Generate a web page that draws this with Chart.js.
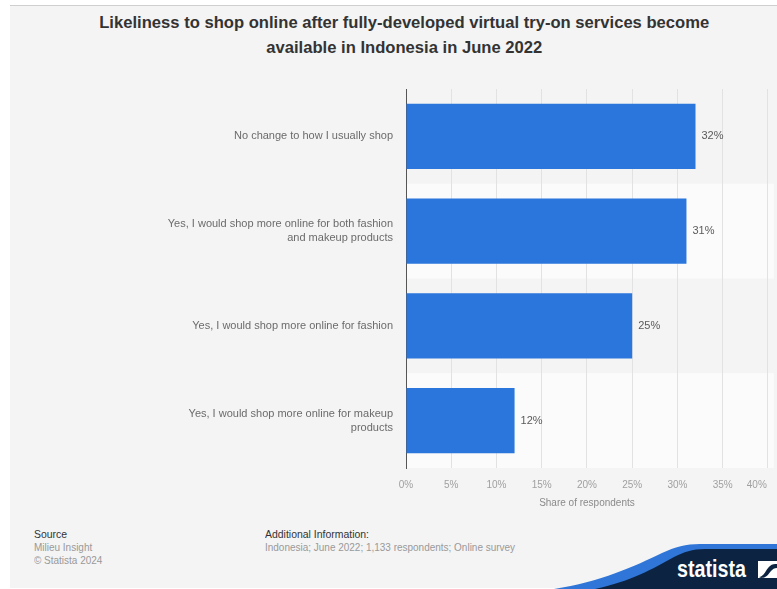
<!DOCTYPE html>
<html>
<head>
<meta charset="utf-8">
<script src="https://cdn.jsdelivr.net/npm/chart.js@4.4.0/dist/chart.umd.min.js"></script>
<style>
  html, body { margin: 0; padding: 0; background: #fff; overflow: hidden; }
  #page { position: relative; width: 777px; height: 589px; overflow: hidden; background: #fff; }
  #panel { position: absolute; left: 10px; top: 5px; width: 767px; height: 582px; background: #f4f4f4; border-top: 1px solid #cfcfcf; }
  #title { position: absolute; left: 16px; top: 10px; width: 777px; text-align: center;
           font: bold 17px "Liberation Sans", Arial, sans-serif; color: #333; line-height: 25px; }
  #title span { display: inline-block; transform-origin: center; white-space: nowrap; }
  #chartBox { position: absolute; left: 10px; top: 5px; width: 790px; height: 515px; }
  .foot { position: absolute; font: 10.5px "Liberation Sans", Arial, sans-serif; line-height: 13px; color: #999;
          transform: scaleX(0.95); transform-origin: left top; white-space: nowrap; }
  .foot b { font-weight: normal; color: #333; font-size: 11px; }
  #logo { position: absolute; left: 540px; top: 520px; width: 237px; height: 69px; }
  #logoText { position: absolute; left: 677px; top: 555px; font: bold 24px "Liberation Sans", Arial, sans-serif;
              color: #fff; transform: scaleX(0.82); transform-origin: left top; line-height: 27px; }
</style>
</head>
<body>
<div id="page">
  <div id="panel"></div>
  <div id="title"><span>Likeliness to shop online after fully-developed virtual try-on services become</span><br><span>available in Indonesia in June 2022</span></div>
  <div id="chartBox"><canvas id="chart" width="790" height="515"></canvas></div>

  <div class="foot" style="left:34px; top:528px;"><b>Source</b><br>Milieu Insight<br>© Statista 2024</div>
  <div class="foot" style="left:265px; top:528px;"><b>Additional Information:</b><br>Indonesia; June 2022; 1,133 respondents; Online survey</div>

  <svg id="logo" viewBox="0 0 237 69">
    <path d="M14 69 C 60 62, 95 46, 122 33 C 135 27, 146 24, 160 24 L 237 24 L 237 69 Z" fill="#2f76d8"/>
    <path d="M55 69 C 92 61, 112 49, 134 37 C 144 32, 152 29, 165 29 L 237 29 L 237 69 Z" fill="#0c2442"/>
    <rect x="218" y="41" width="19" height="17" fill="#fff"/>
    <path d="M219 57 C 224 57, 226 49, 230 46 C 232 44, 235 44, 237 44 L 237 48 C 234 48, 233 49, 231 51 C 228 55, 226 58, 221 58 Z" fill="#0c2442"/>
  </svg>
  <div id="logoText">statista</div>
</div>

<script>
'use strict';

/* ── Data ────────────────────────────────────────────────────── */
const categories = [
    ['No change to how I usually shop'],
    ['Yes, I would shop more online for both fashion', 'and makeup products'],
    ['Yes, I would shop more online for fashion'],
    ['Yes, I would shop more online for makeup', 'products'],
];
const shares = [32, 31, 25, 12];
const xTicks = [0, 5, 10, 15, 20, 25, 30, 35, 40];

const BAR_BLUE = '#2a76dc';
const FONT = '"Liberation Sans", Arial, sans-serif';

// Title is set in a condensed bold face: squeeze the first line to 610px wide
(function condenseTitle() {
    const spans = document.querySelectorAll('#title span');
    const k = 610 / spans[0].getBoundingClientRect().width;
    spans.forEach(s => { s.style.transform = `scaleX(${k})`; });
})();

/* ── Alternating row shading behind the bars ─────────────────── */
const rowBands = {
    id: 'rowBands',
    beforeDraw(chart) {
        const { ctx, chartArea, scales } = chart;
        const yScale = scales.y;
        const half = (chartArea.bottom - chartArea.top) / categories.length / 2;
        ctx.save();
        ctx.fillStyle = '#fbfbfb';
        categories.forEach((_, i) => {
            if (i % 2 === 0) return;
            const cy = yScale.getPixelForValue(i);
            ctx.fillRect(chartArea.left, cy - half, chartArea.right - chartArea.left + 6, half * 2);
        });
        ctx.restore();
    }
};

/* ── Value labels at the end of each bar ─────────────────────── */
const valueLabels = {
    id: 'valueLabels',
    afterDatasetsDraw(chart) {
        const { ctx } = chart;
        const meta = chart.getDatasetMeta(0);
        ctx.save();
        ctx.font = '11px ' + FONT;
        ctx.fillStyle = '#5a5a5a';
        ctx.textAlign = 'left';
        ctx.textBaseline = 'middle';
        meta.data.forEach((bar, i) => {
            ctx.fillText(shares[i] + '%', bar.x + 6, bar.y);
        });
        ctx.restore();
    }
};

new Chart(document.getElementById('chart'), {
    type: 'bar',
    data: {
        labels: categories,
        datasets: [{
            data: shares,
            backgroundColor: BAR_BLUE,
            borderWidth: 0,
            barPercentage: 0.69,
            categoryPercentage: 1,
        }]
    },
    options: {
        indexAxis: 'y',
        responsive: false,
        animation: false,
        layout: { padding: { top: 84, left: 0, right: 29, bottom: 7 } },
        scales: {
            x: {
                min: 0, max: 40,
                afterBuildTicks: scale => { scale.ticks = xTicks.map(v => ({ value: v })); },
                afterFit: scale => { scale.height = 45; },
                ticks: {
                    color: '#a0a0a0',
                    font: { family: FONT, size: 10 },
                    padding: 11,
                    maxRotation: 0,
                    callback: v => v === 40 ? '40%        ' : v + '%',
                },
                grid: {
                    drawTicks: false,
                    color: c => c.tick && c.tick.value === 0 ? 'rgba(0,0,0,0)' : '#e2e2e2',
                },
                border: { display: false },
                title: {
                    display: true,
                    text: 'Share of respondents',
                    color: '#8a8a8a',
                    font: { family: FONT, size: 10 },
                    padding: { top: 0, bottom: 4 },
                },
            },
            y: {
                afterFit: scale => { scale.width = 396; },
                ticks: {
                    color: '#6b6b6b',
                    font: { family: FONT, size: 11, lineHeight: 1.3 },
                    padding: 13,
                },
                grid: { display: false, drawTicks: false },
                border: { display: true, color: '#555', width: 1 },
            },
        },
        plugins: {
            legend: { display: false },
            tooltip: { enabled: false },
        },
    },
    plugins: [rowBands, valueLabels],
});
</script>
</body>
</html>
